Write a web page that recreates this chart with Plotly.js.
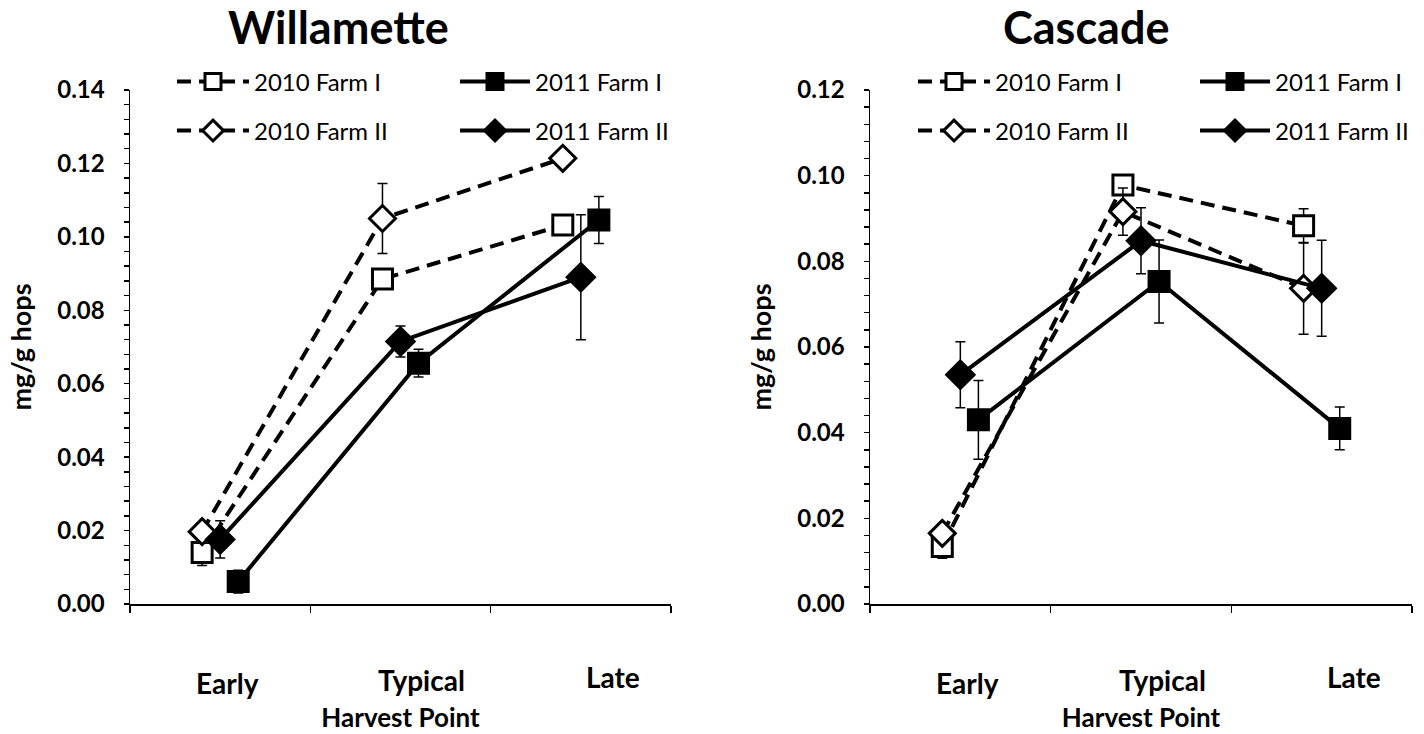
<!DOCTYPE html>
<html><head><meta charset="utf-8">
<script src="https://cdn.plot.ly/plotly-3.0.1.min.js"></script>
<style>body{margin:0;background:#fff}#chart{width:1424px;height:734px}</style>
</head><body><div id="chart"></div>
<script>
// ---- data ----
const categories = ['Early', 'Typical', 'Late'];
const seriesNames = ['2010 Farm I', '2011 Farm I', '2010 Farm II', '2011 Farm II'];
const panelTitles = ['Willamette', 'Cascade'];

// Willamette (mg/g hops)
const wil2010FarmI     = [0.0140, 0.0885, 0.1032];
const wil2010FarmIErr  = [0.0035, 0.0020, 0.0020];
const wil2011FarmI     = [0.0061, 0.0656, 0.1046];
const wil2011FarmIErr  = [0.0031, 0.0038, 0.0064];
const wil2010FarmII    = [0.0197, 0.1050, 0.1214];
const wil2010FarmIIErr = [0.0020, 0.0095, 0.0020];
const wil2011FarmII    = [0.0176, 0.0715, 0.0890];
const wil2011FarmIIErr = [0.0051, 0.0042, 0.0170];

// Cascade (mg/g hops)
const cas2010FarmI     = [0.0134, 0.0978, 0.0883];
const cas2010FarmIErr  = [0.0027, 0.0020, 0.0040];
const cas2011FarmI     = [0.0430, 0.0753, 0.0410];
const cas2011FarmIErr  = [0.0092, 0.0097, 0.0050];
const cas2010FarmII    = [0.0165, 0.0916, 0.0737];
const cas2010FarmIIErr = [0.0020, 0.0055, 0.0107];
const cas2011FarmII    = [0.0535, 0.0848, 0.0737];
const cas2011FarmIIErr = [0.0077, 0.0077, 0.0112];

// ---- styling ----
const FONT = 'Lato, "Open Sans", sans-serif';
const W = 1424, H = 734, MT = 90, MB = 130;
const plotH = H - MT - MB;
const py = p => (H - MB - p) / plotH;   // pixel row -> paper y
const px = p => p / W;                  // pixel col -> paper x

// offset of each series within a category (category units) and look
const seriesStyle = [
  {off: -0.1, dash: '14px,8px', symbol: 'square',  msize: 20, fill: '#fff'},
  {off:  0.1, dash: 'solid',    symbol: 'square',  msize: 20, fill: '#000'},
  {off: -0.1, dash: '14px,8px', symbol: 'diamond', msize: 20, fill: '#fff'},
  {off:  0.0, dash: 'solid',    symbol: 'diamond', msize: 21, fill: '#000'}
];

const panels = [
  {vals: [wil2010FarmI, wil2011FarmI, wil2010FarmII, wil2011FarmII],
   errs: [wil2010FarmIErr, wil2011FarmIErr, wil2010FarmIIErr, wil2011FarmIIErr],
   xa: 'x', ya: 'y'},
  {vals: [cas2010FarmI, cas2011FarmI, cas2010FarmII, cas2011FarmII],
   errs: [cas2010FarmIErr, cas2011FarmIErr, cas2010FarmIIErr, cas2011FarmIIErr],
   xa: 'x2', ya: 'y2'}
];

const traces = [];
let legendIdx = 0;
panels.forEach((pn, pi) => {
  pn.vals.forEach((v, si) => {
    const st = seriesStyle[si];
    legendIdx++;
    traces.push({
      type: 'scatter', mode: 'lines+markers',
      name: seriesNames[si],
      x: categories.map((c, i) => i + 1 + st.off),
      y: v,
      xaxis: pn.xa, yaxis: pn.ya,
      legend: legendIdx === 1 ? 'legend' : 'legend' + legendIdx,
      line: {color: '#000', width: 4, dash: st.dash},
      marker: {symbol: st.symbol, size: st.msize, color: st.fill,
               line: {color: '#000', width: 3}},
      error_y: {type: 'data', array: pn.errs[si], visible: true, color: '#000', thickness: 1.5, width: 5},
      hoverinfo: 'x+y'
    });
  });
});

// legend placement (pixel positions of each entry)
const legCols = [[172, 455], [913, 1195]];
const legRows = [82, 131];
const legItemW = [[72, 70], [72, 70]];
const layout = {
  width: W, height: H,
  paper_bgcolor: '#fff', plot_bgcolor: '#fff',
  margin: {l: 0, r: 0, t: MT, b: MB},
  font: {family: FONT, color: '#000'},
  showlegend: true,
  annotations: [],
  xaxis:  {domain: [px(130), px(671)]},
  xaxis2: {domain: [px(870), px(1412)]},
  yaxis:  {range: [0, 0.14]},
  yaxis2: {range: [0, 0.12]}
};
['xaxis', 'xaxis2'].forEach(k => Object.assign(layout[k], {
  range: [0.5, 3.5], tickvals: [0.5, 1.5, 2.5, 3.5], showticklabels: false,
  ticks: 'outside', ticklen: 7, tickwidth: 1.5, tickcolor: '#000',
  showline: true, linecolor: '#000', linewidth: 1.5, showgrid: false, zeroline: false,
  fixedrange: true,
  title: {text: 'Harvest Point', font: {family: FONT, size: 26, weight: 'bold'}, standoff: 97}
}));
['yaxis', 'yaxis2'].forEach((k, i) => Object.assign(layout[k], {
  anchor: i === 0 ? 'x' : 'x2',
  dtick: 0.02, tick0: 0, tickformat: '.2f',
  ticks: 'outside', ticklen: 5, tickwidth: 1.5, tickcolor: '#000',
  minor: {dtick: 0.004, ticks: 'outside', ticklen: 5, tickwidth: 1.5, tickcolor: '#000'},
  tickfont: {family: FONT, size: 24, weight: 'bold'},
  ticklabelstandoff: 14,
  showline: true, linecolor: '#000', linewidth: 1.5, showgrid: false, zeroline: false,
  fixedrange: true,
  title: {text: 'mg/g hops', font: {family: FONT, size: 27, weight: 'bold'}, standoff: 18}
}));
layout.xaxis.anchor = 'y';
layout.xaxis2.anchor = 'y2';

// legends
let li = 0;
[0, 1].forEach(pi => {
  [[0, 0], [0, 1], [1, 0], [1, 1]].forEach(([row, col]) => {
    li++;
    const key = li === 1 ? 'legend' : 'legend' + li;
    layout[key] = {
      x: px(legCols[pi][col]), y: py(legRows[row]), xanchor: 'left', yanchor: 'middle',
      bgcolor: 'rgba(0,0,0,0)', borderwidth: 0, itemwidth: legItemW[pi][col],
      font: {family: FONT, size: 24, color: '#000'}, itemclick: false, itemdoubleclick: false
    };
  });
});

// panel titles
const titleX = [338, 1086];
panelTitles.forEach((t, i) => layout.annotations.push({
  text: t, xref: 'paper', yref: 'paper', x: px(titleX[i]), y: py(27),
  xanchor: 'center', yanchor: 'middle', showarrow: false,
  font: {family: FONT, size: 45, weight: 'bold', color: '#000'}
}));

// category labels (below the axis, nudged as in the original)
const catNudgeX = [7, 21, 32];
const catRowY = [683, 680, 677];
[['x', 'y'], ['x2', 'y2']].forEach(([xr]) => {
  categories.forEach((c, i) => layout.annotations.push({
    text: c, xref: xr, yref: 'paper', x: i + 1, xshift: catNudgeX[i], y: py(catRowY[i]),
    xanchor: 'center', yanchor: 'middle', showarrow: false,
    font: {family: FONT, size: 28, weight: 'bold', color: '#000'}
  }));
});

Plotly.newPlot('chart', traces, layout, {staticPlot: true, displayModeBar: false});
</script>
</body></html>
